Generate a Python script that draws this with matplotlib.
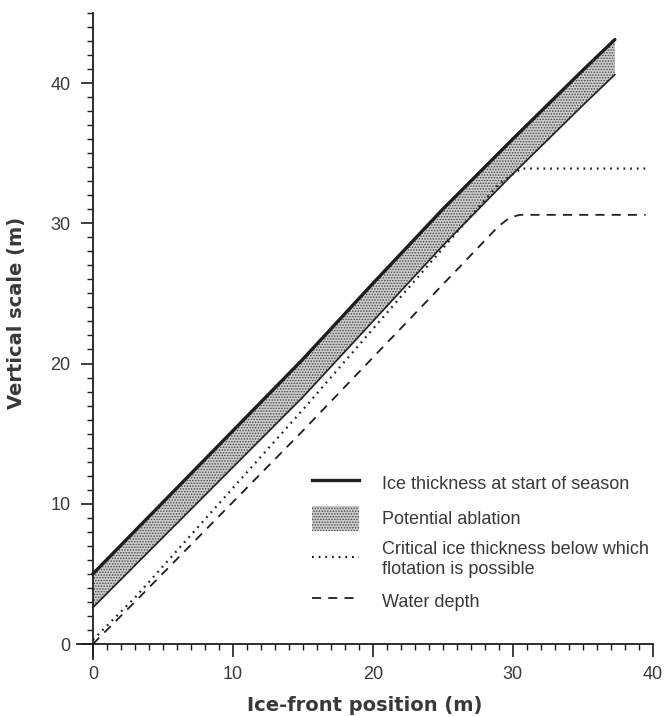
import matplotlib
matplotlib.use("Agg")
import matplotlib.pyplot as plt
from matplotlib.lines import Line2D
from matplotlib.patches import Patch

plt.rcParams['font.family'] = ['Liberation Sans', 'DejaVu Sans']
plt.rcParams['hatch.linewidth'] = 0.7

# ice thickness at start of season (upper) and after potential ablation (lower)
ice_x = [0, 5, 10, 15, 20, 25, 30, 35, 37.3]
ice_top = [5.0, 10.1, 15.2, 20.3, 25.7, 31.0, 36.0, 40.9, 43.1]
ice_bottom = [2.6, 7.6, 12.6, 17.6, 23.0, 28.4, 33.5, 38.4, 40.6]

# critical ice thickness below which flotation is possible
crit_x = [0, 3, 15, 29, 30.6, 39.6]
crit_y = [0.3, 3.3, 16.7, 32.8, 33.9, 33.9]

# water depth
water_x = [0, 3, 15, 29, 29.8, 30.5, 39.5]
water_y = [0, 3, 15.2, 29.8, 30.4, 30.6, 30.6]

ink = '#1e1e1e'
txt = '#383838'
band_face = '#cdcdcd'
band_dots = '#444444'

fig = plt.figure(figsize=(6.68, 7.16), dpi=100)
ax = fig.add_axes([0.116, 0.079, 0.861, 0.903])

ax.fill_between(ice_x, ice_bottom, ice_top, facecolor=band_face,
                edgecolor=band_dots, hatch='......', linewidth=0)
ax.plot(ice_x, ice_top, color=ink, lw=2.4, solid_capstyle='round')
ax.plot(ice_x, ice_bottom, color=ink, lw=1.2)
ax.plot(crit_x, crit_y, color=ink, lw=1.6, linestyle=(0, (0.8, 2.2)))
ax.plot(water_x, water_y, color=ink, lw=1.3, linestyle=(0, (5, 4)))

ax.set_xlim(-1.1, 40)
ax.set_ylim(-1.1, 45)
ax.spines['left'].set_position(('data', 0))
ax.spines['bottom'].set_position(('data', 0))
ax.spines['right'].set_visible(False)
ax.spines['top'].set_visible(False)
for s in ('left', 'bottom'):
    ax.spines[s].set_color(ink)
    ax.spines[s].set_linewidth(1.3)

ax.set_xticks([0, 10, 20, 30, 40])
ax.set_yticks([0, 10, 20, 30, 40])
ax.set_xticks(range(0, 41), minor=True)
ax.set_yticks(range(0, 46), minor=True)
ax.tick_params(which='major', direction='out', length=9, width=1.2,
               color=ink, labelsize=13, labelcolor=txt, pad=7)
ax.tick_params(which='minor', direction='out', length=4.5, width=1.0,
               color=ink)

ax.set_xlabel('Ice-front position (m)', fontsize=14, fontweight='bold',
              family='DejaVu Sans', color=txt, labelpad=9)
ax.set_ylabel('Vertical scale (m)', fontsize=14, fontweight='bold',
              family='DejaVu Sans', color=txt)
ax.yaxis.set_label_coords(-0.09, 0.536)

handles = [
    Line2D([], [], color=ink, lw=2.4),
    Patch(facecolor=band_face, edgecolor=band_dots, hatch='......', lw=0),
    Line2D([], [], color=ink, lw=1.6, linestyle=(0, (0.8, 2.2))),
    Line2D([], [], color=ink, lw=1.3, linestyle=(0, (5, 4))),
]
labels = ['Ice thickness at start of season',
          'Potential ablation',
          'Critical ice thickness below which\nflotation is possible',
          'Water depth']
leg = ax.legend(handles, labels, loc='lower left',
                bbox_to_anchor=(0.385, 0.052), frameon=False,
                fontsize=13, handlelength=2.6, handleheight=1.7,
                labelspacing=0.6, handletextpad=1.3, borderpad=0.2)
for t in leg.get_texts():
    t.set_color(txt)

fig.savefig('out.png', dpi=100, facecolor='white')
